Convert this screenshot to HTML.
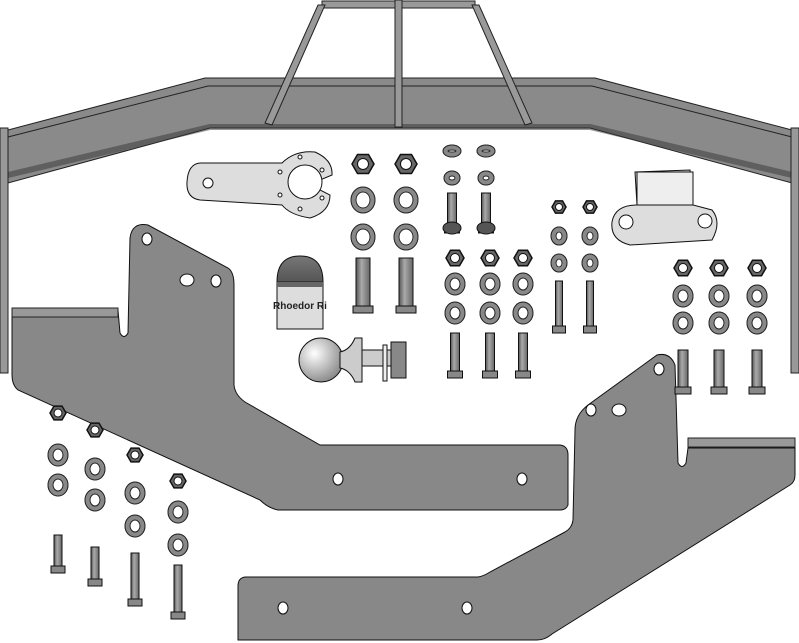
<!DOCTYPE html>
<html><head><meta charset="utf-8"><style>
html,body{margin:0;padding:0;background:#fff;width:799px;height:643px;overflow:hidden}
svg{display:block}
</style></head><body>
<svg id="s" width="799" height="643" viewBox="0 0 799 643" xmlns="http://www.w3.org/2000/svg">
<defs>
<linearGradient id="bolt" x1="0" x2="1"><stop offset="0" stop-color="#555"/><stop offset=".4" stop-color="#aaa"/><stop offset="1" stop-color="#666"/></linearGradient>
<radialGradient id="ball" cx=".35" cy=".35" r=".7"><stop offset="0" stop-color="#fff"/><stop offset="1" stop-color="#888"/></radialGradient>
<linearGradient id="cap" x1="0" x2="0" y1="0" y2="1"><stop offset="0" stop-color="#777"/><stop offset="1" stop-color="#555"/></linearGradient>
</defs>
<!-- frame bar -->
<polygon points="8,130 205,78 595,78 792,130 792,183 590,128 210,128 8,183" fill="#8a8a8a" stroke="#222" stroke-width="1"/>
<polyline points="8,137 208,86 592,86 792,137" fill="none" stroke="#222"/>
<polyline points="8,175 210,127 590,127 792,175" fill="none" stroke="#333" stroke-width="6" opacity=".5"/>
<rect x="0" y="128" width="8" height="245" fill="#999" stroke="#222"/>
<rect x="791" y="128" width="8" height="245" fill="#999" stroke="#222"/>
<!-- trapezoid -->
<g stroke="#222" fill="#999" stroke-width="1">
<rect x="322" y="1" width="153" height="7"/>
<polygon points="318,5 325,5 272,125 265,123"/>
<polygon points="472,5 479,5 532,123 525,125"/>
<rect x="395" y="0" width="7" height="127"/>
</g>
<!-- left plate -->
<path d="M130,238 Q132,222 148,225 L228,268 Q234,272 234,285 L234,385 Q235,395 245,402 L320,445 L560,445 Q568,446 568,455 L568,505 Q566,510 560,510 L278,510 Q268,508 260,500 L18,390 Q12,385 12,375 L12,310 L118,310 L120,333 Q124,340 128,333 Z" fill="#888" stroke="#111"/>
<rect x="12" y="308" width="106" height="9" fill="#999" stroke="#222"/>
<g fill="#fff" stroke="#111"><ellipse cx="147" cy="239" rx="5" ry="6"/><ellipse cx="187" cy="280" rx="7" ry="6"/><ellipse cx="216" cy="281" rx="5" ry="6"/><ellipse cx="338" cy="479" rx="5" ry="6"/><ellipse cx="522" cy="479" rx="5" ry="6"/></g>
<!-- right plate -->
<path d="M675,365 Q670,352 657,355 L588,405 Q575,415 575,430 L573,520 Q572,528 565,532 L490,572 Q484,576 478,577 L245,577 Q238,578 238,586 L238,640 L537,640 Q545,640 552,634 L790,485 Q795,482 795,475 L795,448 L688,448 L686,463 Q682,470 678,463 Z" fill="#888" stroke="#111"/>
<rect x="688" y="438" width="107" height="9" fill="#999" stroke="#222"/>
<g fill="#fff" stroke="#111"><ellipse cx="659" cy="369" rx="5" ry="6"/><ellipse cx="591" cy="410" rx="5" ry="6"/><ellipse cx="619" cy="410" rx="7" ry="6"/><ellipse cx="283" cy="608" rx="5" ry="6"/><ellipse cx="467" cy="608" rx="5" ry="6"/></g>
<!-- light plate -->
<path d="M200,163 L282,163 Q295,150 315,152 Q333,160 332,175 L320,180 Q315,185 320,190 L330,195 Q330,212 310,218 Q290,215 282,205 L200,200 Q186,198 187,182 Q188,164 200,163 Z" fill="#ddd" stroke="#111"/>
<ellipse cx="208" cy="183" rx="5" ry="5" fill="#fff" stroke="#111"/>
<circle cx="305" cy="182" r="17" fill="#fff" stroke="#111"/>
<g fill="#fff" stroke="#111"><circle cx="300" cy="157" r="2"/><circle cx="322" cy="170" r="2"/><circle cx="280" cy="172" r="2"/><circle cx="280" cy="195" r="2"/><circle cx="322" cy="198" r="2"/><circle cx="300" cy="209" r="2"/></g>
<!-- bracket -->
<path d="M635,172 L690,170 L693,205 L712,210 Q722,222 712,240 L630,245 Q610,240 612,222 Q615,205 637,205 Z" fill="#ddd" stroke="#111"/>
<rect x="637" y="172" width="56" height="33" fill="#eee" stroke="#111"/>
<g fill="#fff" stroke="#111"><circle cx="626" cy="222" r="7"/><circle cx="705" cy="221" r="7"/></g>
<!-- cap -->
<path d="M277,282 Q277,256 300,256 Q323,256 323,282 Z" fill="url(#cap)" stroke="#111"/>
<rect x="277" y="282" width="46" height="47" fill="#ddd" stroke="#111"/>
<rect x="277" y="282" width="46" height="5" fill="#666"/>
<text x="300" y="309" font-family="Liberation Sans, sans-serif" font-size="10" font-weight="bold" text-anchor="middle" fill="#222">Rhoedor Ri</text>
<!-- ball -->
<circle cx="321" cy="360" r="22" fill="url(#ball)" stroke="#111"/>
<path d="M340,352 Q350,350 355,338 L362,338 L362,382 L355,382 Q350,370 340,368 Z" fill="#ccc" stroke="#111"/>
<rect x="362" y="350" width="30" height="16" fill="#ccc" stroke="#111"/>
<rect x="383" y="345" width="4" height="36" fill="#eee" stroke="#111"/>
<rect x="391" y="342" width="15" height="36" fill="#888" stroke="#111"/>
<g id="parts"></g>
</svg>
<script>
var g=document.getElementById('parts'),NS='http://www.w3.org/2000/svg',h='';
function nut(x,y,r){r=r||9;var p=[];for(var i=0;i<6;i++){var a=Math.PI/3*i;p.push((x+r*Math.cos(a)).toFixed(1)+','+(y+r*Math.sin(a)).toFixed(1));}
h+='<polygon points="'+p.join(' ')+'" fill="#666" stroke="#111" stroke-width="1.5"/><circle cx="'+x+'" cy="'+y+'" r="'+(r*0.5)+'" fill="#fff" stroke="#111"/>';}
function wash(x,y,rx,ry){rx=rx||10;ry=ry||11;h+='<ellipse cx="'+x+'" cy="'+y+'" rx="'+(rx-2)+'" ry="'+(ry-2)+'" fill="none" stroke="#888" stroke-width="5"/><ellipse cx="'+x+'" cy="'+y+'" rx="'+rx+'" ry="'+ry+'" fill="none" stroke="#222"/><ellipse cx="'+x+'" cy="'+y+'" rx="'+(rx-5)+'" ry="'+(ry-5)+'" fill="#fff" stroke="#222"/>';}
function bolt(x,y1,y2,w){w=w||9;h+='<rect x="'+(x-w/2)+'" y="'+y1+'" width="'+w+'" height="'+(y2-y1-6)+'" fill="url(#bolt)" stroke="#111"/><rect x="'+(x-w/2-3)+'" y="'+(y2-6)+'" width="'+(w+6)+'" height="7" fill="#888" stroke="#111"/>';}
[363,406].forEach(function(x){nut(x,164,11);wash(x,200,12,13);wash(x,237,12,13);bolt(x,258,312,14);});
[452,486].forEach(function(x){wash(x,151,9,6);wash(x,178,8,7);bolt(x,193,232,9);});
h+='<ellipse cx="452" cy="228" rx="9" ry="6" fill="#555" stroke="#111"/><ellipse cx="486" cy="228" rx="9" ry="6" fill="#555" stroke="#111"/>';
[455,490,523].forEach(function(x){nut(x,258,9);wash(x,284,10,11);wash(x,313,10,11);bolt(x,333,377,9);});
[559,590].forEach(function(x){nut(x,207,7);wash(x,236,8,9);wash(x,263,8,9);bolt(x,281,332,7);});
[683,719,757].forEach(function(x){nut(x,268,9);wash(x,296,10,11);wash(x,323,10,11);bolt(x,350,393,10);});
var bl=[[58,413,455,485,535,572],[95,430,469,500,547,585],[135,455,493,526,553,605],[178,481,512,545,565,618]];
bl.forEach(function(b){nut(b[0],b[1],8);wash(b[0],b[2],10,11);wash(b[0],b[3],10,11);bolt(b[0],b[4],b[5],8);});
g.innerHTML=h;
</script>
</body></html>
